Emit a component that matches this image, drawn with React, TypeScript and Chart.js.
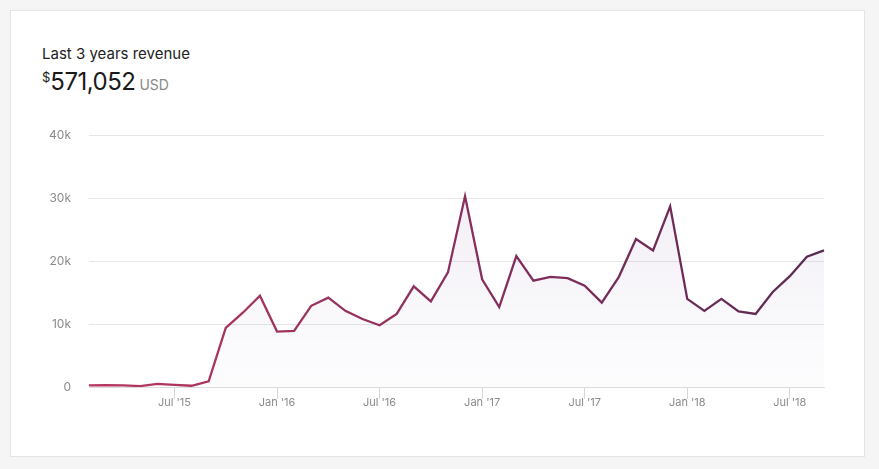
import React, { useEffect, useRef } from "react";
import { Chart, registerables } from "chart.js";

Chart.register(...registerables);

const months = [
  "Feb '15", "Mar '15", "Apr '15", "May '15", "Jun '15", "Jul '15", "Aug '15", "Sep '15", "Oct '15", "Nov '15", "Dec '15",
  "Jan '16", "Feb '16", "Mar '16", "Apr '16", "May '16", "Jun '16", "Jul '16", "Aug '16", "Sep '16", "Oct '16", "Nov '16", "Dec '16",
  "Jan '17", "Feb '17", "Mar '17", "Apr '17", "May '17", "Jun '17", "Jul '17", "Aug '17", "Sep '17", "Oct '17", "Nov '17", "Dec '17",
  "Jan '18", "Feb '18", "Mar '18", "Apr '18", "May '18", "Jun '18", "Jul '18", "Aug '18", "Sep '18",
];

const revenue = [
  250, 300, 250, 150, 500, 350, 200, 900, 9400, 11800, 14500,
  8800, 8900, 12900, 14200, 12100, 10800, 9800, 11600, 16000, 13600, 18200, 30300,
  17100, 12700, 20800, 16900, 17500, 17300, 16100, 13400, 17500, 23500, 21700, 28700,
  14000, 12100, 14000, 12000, 11600, 15100, 17600, 20700, 21700,
];

const yTicks = [0, 10000, 20000, 30000, 40000];

const FONT = "Inter, 'Noto Sans', sans-serif";

const isShown = (label: string) => label.startsWith("Jan") || label.startsWith("Jul");

const RevenueChart = () => {
  const canvasRef = useRef<HTMLCanvasElement>(null);

  useEffect(() => {
    if (!canvasRef.current) return;
    const chart = new Chart(canvasRef.current, {
      type: "line",
      data: {
        labels: months,
        datasets: [
          {
            data: revenue,
            borderWidth: 2.3,
            pointRadius: 0,
            tension: 0,
            fill: "origin",
            borderColor: (ctx: any) => {
              const { chartArea, ctx: c } = ctx.chart;
              if (!chartArea) return "#a0325e";
              const g = c.createLinearGradient(chartArea.left, 0, chartArea.right, 0);
              g.addColorStop(0, "#b8365f");
              g.addColorStop(0.5, "#8a2f5e");
              g.addColorStop(1, "#5a2a52");
              return g;
            },
            backgroundColor: (ctx: any) => {
              const { chartArea, ctx: c } = ctx.chart;
              if (!chartArea) return "rgba(120,100,160,0.06)";
              const g = c.createLinearGradient(0, chartArea.top, 0, chartArea.bottom);
              g.addColorStop(0, "rgba(110,80,150,0.11)");
              g.addColorStop(1, "rgba(110,80,150,0.015)");
              return g;
            },
          },
        ],
      },
      options: {
        animation: false,
        responsive: false,
        layout: { padding: { top: 0, right: 17, left: 0, bottom: 0 } },
        plugins: { legend: { display: false }, tooltip: { enabled: false } },
        scales: {
          x: {
            border: { display: true, color: "#dcdcdc" },
            grid: {
              drawOnChartArea: false,
              drawTicks: true,
              tickLength: 12,
              color: (ctx: any) => (isShown(months[ctx.index] ?? "") ? "#d6d6d6" : "rgba(0,0,0,0)"),
            },
            ticks: {
              autoSkip: false,
              maxRotation: 0,
              padding: -3,
              color: "#8a8a8a",
              font: { family: FONT, size: 11 },
              callback: (_v: any, i: number) => (isShown(months[i]) ? months[i] : ""),
            },
            afterFit: (scale: any) => {
              scale.height = 34;
            },
          },
          y: {
            min: 0,
            max: 40000,
            afterBuildTicks: (scale: any) => {
              scale.ticks = yTicks.map((v) => ({ value: v }));
            },
            border: { display: false },
            grid: { color: "#e6e6e6", drawTicks: false },
            ticks: {
              padding: 18,
              color: "#8a8a8a",
              font: { family: FONT, size: 12 },
              callback: (v: any) => (v === 0 ? "0" : `${Number(v) / 1000}k`),
            },
            afterFit: (scale: any) => {
              scale.width = 58;
            },
          },
        },
      },
    });
    return () => {
      chart.destroy();
    };
  }, []);

  return <canvas ref={canvasRef} width={810} height={311} style={{ position: "absolute", left: 20, top: 99 }} />;
};

export default function App() {
  return (
    <div style={{ position: "fixed", inset: 0, background: "#f5f5f5", fontFamily: FONT }}>
      <div
        style={{
          position: "absolute",
          left: 10,
          top: 10,
          width: 853,
          height: 445,
          background: "#fff",
          border: "1px solid #e4e4e4",
        }}
      >
        <div style={{ position: "absolute", left: 31, top: 33, fontSize: 15, color: "#222" }}>Last 3 years revenue</div>
        <div style={{ position: "absolute", left: 31, top: 56, color: "#1a1a1a", whiteSpace: "nowrap" }}>
          <span style={{ fontSize: 13, verticalAlign: "top", position: "relative", top: 2 }}>$</span>
          <span style={{ fontSize: 24, letterSpacing: -0.5 }}>571,052</span>
          <span style={{ fontSize: 14, color: "#8a8a8a", marginLeft: 4 }}>USD</span>
        </div>
        <RevenueChart />
      </div>
    </div>
  );
}
